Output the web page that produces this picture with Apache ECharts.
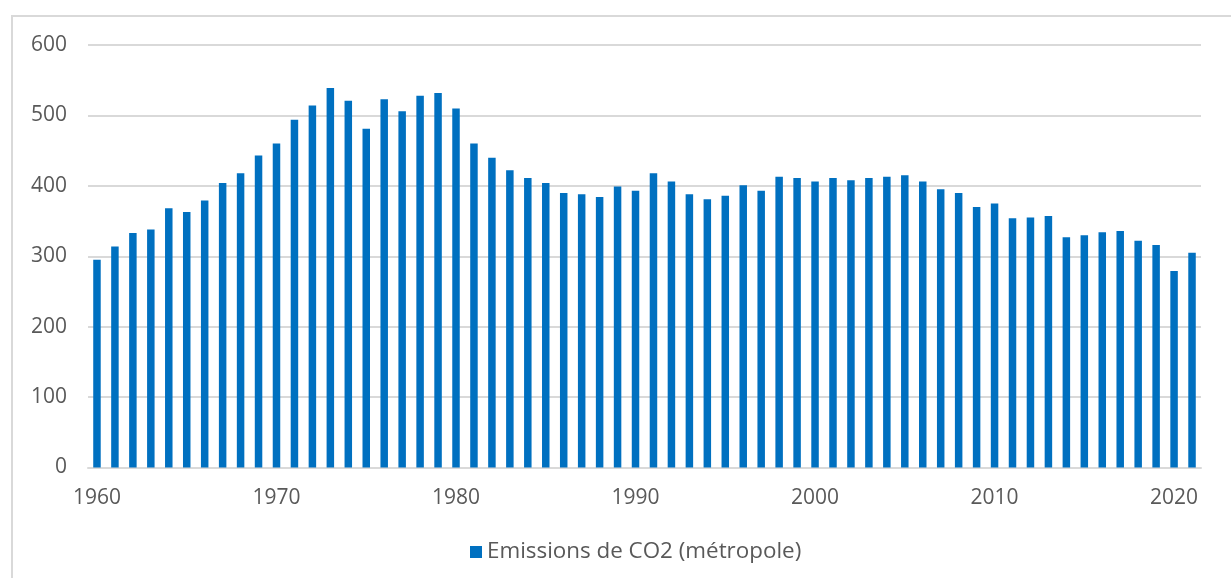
<!DOCTYPE html>
<html>
<head>
<meta charset="utf-8">
<script src="https://cdn.jsdelivr.net/npm/echarts@6/dist/echarts.min.js"></script>
<style>
html,body{margin:0;padding:0;background:#fff;}
#c{width:1231px;height:578px;}
</style>
</head>
<body>
<div id="c"></div>
<script>
const years = [];
for (let y = 1960; y <= 2021; y++) years.push(String(y));
const emissions = [
  295, 314, 333, 338, 368, 363, 379, 404, 418, 443,
  460, 494, 514, 539, 521, 481, 523, 506, 528, 532,
  510, 460, 440, 422, 411, 404, 390, 388, 384, 399,
  393, 418, 406, 388, 381, 386, 401, 393, 413, 411,
  406, 411, 408, 411, 413, 415, 406, 395, 390, 370,
  375, 354, 355, 357, 327, 330, 334, 336, 322, 316,
  279, 305
];
const yTicks = { min: 0, max: 600, interval: 100 };
const seriesName = 'Emissions de CO2 (métropole)';

const chart = echarts.init(document.getElementById('c'));
const textColor = '#595959';
const font = '"Open Sans", sans-serif';
chart.setOption({
  animation: false,
  textStyle: { fontFamily: font, color: textColor },
  graphic: [{
    type: 'rect',
    shape: { x: 12, y: 16, width: 1300, height: 700 },
    style: { fill: 'none', stroke: '#d9d9d9', lineWidth: 2 },
    silent: true
  }],
  grid: { left: 88, right: 30, top: 45, bottom: 110.5, containLabel: false },
  legend: {
    data: [seriesName],
    left: 465, top: 536,
    itemWidth: 12, itemHeight: 12, itemGap: 10,
    icon: 'rect',
    textStyle: { fontFamily: font, fontSize: 22.4, color: textColor, padding: [0, 0, 0, 0] }
  },
  xAxis: {
    type: 'category',
    data: years,
    boundaryGap: true,
    axisLine: { show: true, lineStyle: { color: '#d9d9d9', width: 2 } },
    axisTick: { show: false },
    axisLabel: { interval: 9, margin: 20, fontSize: 21, color: textColor, fontFamily: font }
  },
  yAxis: {
    type: 'value',
    min: yTicks.min, max: yTicks.max, interval: yTicks.interval,
    axisLine: { show: false },
    axisTick: { show: false },
    splitLine: { lineStyle: { color: '#d9d9d9', width: 2 } },
    axisLabel: { margin: 21, fontSize: 21, color: textColor, fontFamily: font }
  },
  series: [{
    name: seriesName,
    type: 'bar',
    data: emissions,
    barWidth: 7.5,
    itemStyle: { color: '#0070C0' }
  }]
});
</script>
</body>
</html>
